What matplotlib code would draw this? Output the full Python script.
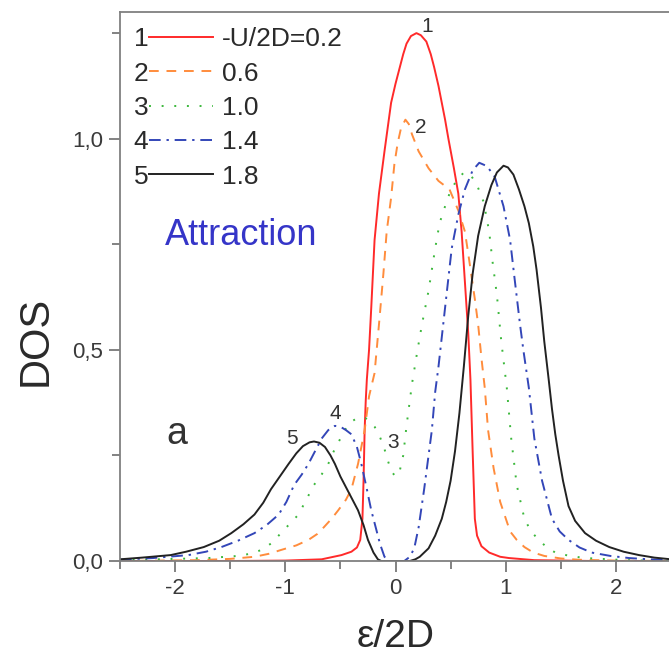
import numpy as np
import matplotlib
matplotlib.use('Agg')
import matplotlib.pyplot as plt
from matplotlib.ticker import MultipleLocator, FuncFormatter

plt.rcParams['font.family'] = ['Liberation Sans', 'DejaVu Sans']

# curve 1: -U/2D = 0.2
x1 = [-2.5, -1.5, -1.0, -0.67, -0.49, -0.4, -0.35, -0.32, -0.3, -0.29, -0.28, -0.27, -0.26, -0.24,
      -0.22, -0.19, -0.15, -0.1, -0.04, 0.0, 0.03, 0.07, 0.1, 0.14, 0.19, 0.23, 0.28, 0.32, 0.35,
      0.39, 0.42, 0.45, 0.48, 0.53, 0.57, 0.6, 0.63, 0.66, 0.68, 0.70, 0.72, 0.74, 0.78, 0.85, 0.95,
      1.03, 1.26, 1.8, 2.5]
y1 = [0.0, 0.0, 0.001, 0.004, 0.014, 0.022, 0.032, 0.05, 0.10, 0.19, 0.31, 0.38, 0.43, 0.5,
      0.60, 0.76, 0.87, 0.97, 1.085, 1.13, 1.16, 1.2, 1.225, 1.243, 1.25, 1.245, 1.23, 1.2, 1.17,
      1.125, 1.085, 1.045, 1.0, 0.93, 0.87, 0.78, 0.66, 0.54, 0.43, 0.26, 0.10, 0.06, 0.035, 0.02, 0.01,
      0.007, 0.002, 0.0, 0.0]

# curve 2: 0.6
x2 = [-2.5, -1.8, -1.5, -1.28, -1.15, -1.04, -0.9, -0.79, -0.71, -0.65, -0.58, -0.52, -0.45, -0.4,
      -0.37, -0.34, -0.28, -0.24, -0.19, -0.15, -0.11, -0.08, -0.04, -0.01, 0.02, 0.05, 0.09, 0.12,
      0.15, 0.21, 0.3, 0.39, 0.49, 0.57, 0.63, 0.67, 0.72, 0.75, 0.78, 0.81, 0.84, 0.89, 0.95, 1.04,
      1.1, 1.17, 1.25, 1.35, 1.5, 1.66, 2.0, 2.5]
y2 = [0.0, 0.002, 0.005, 0.01, 0.017, 0.026, 0.037, 0.05, 0.064, 0.08, 0.10, 0.12, 0.145, 0.17,
      0.2, 0.23, 0.31, 0.39, 0.445, 0.56, 0.68, 0.78, 0.86, 0.94, 0.99, 1.025, 1.045, 1.035,
      1.01, 0.97, 0.93, 0.90, 0.88, 0.83, 0.78, 0.71, 0.62, 0.56, 0.48, 0.41, 0.31, 0.22, 0.14, 0.07,
      0.05, 0.033, 0.02, 0.012, 0.006, 0.003, 0.001, 0.0]

# curve 3: 1.0
x3 = [-2.5, -2.0, -1.7, -1.43, -1.3, -1.22, -1.12, -1.04, -0.96, -0.88, -0.81, -0.74, -0.67, -0.61,
      -0.56, -0.52, -0.46, -0.4, -0.35, -0.31, -0.27, -0.23, -0.19, -0.15, -0.1, -0.06, -0.03, 0.0,
      0.04, 0.07, 0.1, 0.15, 0.2, 0.24, 0.3, 0.36, 0.4, 0.45, 0.49, 0.55, 0.62, 0.68, 0.74, 0.8, 0.85,
      0.88, 0.92, 0.96, 1.01, 1.05, 1.1, 1.17, 1.23, 1.3, 1.37, 1.45, 1.58, 1.72, 2.1, 2.5]
y3 = [0.002, 0.005, 0.007, 0.012, 0.018, 0.026, 0.043, 0.066, 0.088, 0.11, 0.145, 0.18, 0.205, 0.23,
      0.26, 0.28, 0.31, 0.33, 0.338, 0.34, 0.338, 0.33, 0.318, 0.30, 0.265, 0.23, 0.21, 0.20,
      0.215, 0.25, 0.32, 0.42, 0.5, 0.56, 0.64, 0.74, 0.80, 0.84, 0.87, 0.90, 0.92, 0.915, 0.89, 0.85,
      0.78, 0.71, 0.63, 0.52, 0.41, 0.29, 0.18, 0.10, 0.07, 0.05, 0.033, 0.02, 0.012, 0.007, 0.002, 0.0]

# curve 4: 1.4
x4 = [-2.5, -2.2, -1.88, -1.72, -1.58, -1.43, -1.28, -1.17, -1.06, -0.99, -0.92, -0.85, -0.79, -0.73,
      -0.67, -0.61, -0.55, -0.5, -0.45, -0.4, -0.35, -0.31, -0.26, -0.22, -0.19, -0.14, -0.1, -0.05,
      0.03, 0.08, 0.13, 0.17, 0.21, 0.26, 0.33, 0.36, 0.39, 0.45, 0.51, 0.57, 0.63, 0.7, 0.76, 0.83,
      0.9, 0.98, 1.04, 1.08, 1.13, 1.16, 1.21, 1.26, 1.33, 1.42, 1.49, 1.57, 1.67, 1.78, 1.95, 2.12,
      2.3, 2.5]
y4 = [0.003, 0.007, 0.014, 0.022, 0.033, 0.048, 0.066, 0.085, 0.11, 0.14, 0.18, 0.205, 0.23, 0.26,
      0.29, 0.31, 0.32, 0.318, 0.31, 0.30, 0.27, 0.23, 0.17, 0.12, 0.09, 0.04, 0.01, 0.0,
      0.0, 0.0, 0.01, 0.03, 0.08, 0.17, 0.31, 0.40, 0.46, 0.60, 0.74, 0.82, 0.88, 0.925, 0.943, 0.935,
      0.91, 0.84, 0.76, 0.67, 0.56, 0.50, 0.41, 0.29, 0.19, 0.10, 0.07, 0.05, 0.032, 0.02, 0.012, 0.007,
      0.004, 0.002]

# curve 5: 1.8
x5 = [-2.5, -2.3, -2.04, -1.9, -1.74, -1.6, -1.49, -1.38, -1.28, -1.2, -1.13, -1.05, -0.97, -0.9,
      -0.84, -0.78, -0.74, -0.69, -0.64, -0.59, -0.55, -0.5, -0.46, -0.4, -0.34, -0.29, -0.25, -0.2,
      -0.16, -0.13, 0.0, 0.13, 0.18, 0.22, 0.26, 0.3, 0.36, 0.42, 0.46, 0.5, 0.54, 0.58, 0.62, 0.66,
      0.70, 0.75, 0.81, 0.87, 0.92, 0.98, 1.02, 1.07, 1.12, 1.17, 1.21, 1.25, 1.28, 1.32, 1.35, 1.39,
      1.42, 1.45, 1.48, 1.52, 1.57, 1.63, 1.72, 1.82, 1.94, 2.07, 2.21, 2.35, 2.5]
y5 = [0.004, 0.008, 0.014, 0.022, 0.033, 0.048, 0.066, 0.087, 0.11, 0.138, 0.17, 0.20, 0.23, 0.255,
      0.272, 0.281, 0.283, 0.28, 0.27, 0.25, 0.23, 0.20, 0.18, 0.15, 0.12, 0.085, 0.05, 0.02,
      0.004, 0.0, 0.0, 0.0, 0.004, 0.01, 0.02, 0.03, 0.06, 0.10, 0.14, 0.19, 0.26, 0.35, 0.46, 0.58,
      0.68, 0.77, 0.84, 0.89, 0.92, 0.936, 0.932, 0.915, 0.88, 0.84, 0.80, 0.745, 0.69, 0.60, 0.52, 0.43,
      0.36, 0.30, 0.25, 0.19, 0.13, 0.095, 0.066, 0.048, 0.033, 0.022, 0.014, 0.008, 0.004]

labels = ['-U/2D=0.2', '0.6', '1.0', '1.4', '1.8']
numbers = ['1', '2', '3', '4', '5']
colors = ['#ff2a2a', '#ff8c3c', '#3cb83c', '#3346b8', '#222222']
dashes = [None, (5, 4), (1, 5.5), (6, 3, 1.2, 3), None]

# curve number tags placed near peaks
tag_x = [0.29, 0.23, -0.02, -0.55, -0.94]
tag_y = [1.265, 1.026, 0.28, 0.35, 0.29]

fig = plt.figure(figsize=(6.69, 6.57), dpi=100)
ax = fig.add_axes([120 / 669, 96 / 657, 551 / 669, 549 / 657])

xs = [x1, x2, x3, x4, x5]
ys = [y1, y2, y3, y4, y5]
lines = []
for xx, yy, c, d, lab in zip(xs, ys, colors, dashes, labels):
    ln, = ax.plot(xx, yy, color=c, lw=1.4, label=lab)
    if d is not None:
        ln.set_dashes(d)
    lines.append(ln)

ax.set_xlim(-2.5, 2.5)
ax.set_ylim(0, 1.3)
ax.xaxis.set_major_locator(MultipleLocator(1))
ax.xaxis.set_minor_locator(MultipleLocator(0.5))
ax.yaxis.set_major_locator(MultipleLocator(0.5))
ax.yaxis.set_minor_locator(MultipleLocator(0.25))
ax.yaxis.set_major_formatter(FuncFormatter(lambda v, p: ('%.1f' % v).replace('.', ',')))
ax.xaxis.set_major_formatter(FuncFormatter(lambda v, p: '%d' % v))

for s in ax.spines.values():
    s.set_color('#808080')
    s.set_linewidth(1.3)
ax.tick_params(which='both', direction='out', color='#606060', width=1.1,
               labelsize=16, labelcolor='#3a3a3a', top=False, right=False)
ax.tick_params(which='major', length=8, pad=4)
ax.tick_params(which='minor', length=6)

ax.set_xlabel('\u03b5/2D', fontsize=28, color='#2a2a2a')
ax.xaxis.set_label_coords(0.5, -0.105)
ax.set_ylabel('DOS', fontsize=30, color='#2a2a2a', va='center')
ax.yaxis.set_label_coords(-0.154, 0.40)

for t, tx, ty in zip(numbers, tag_x, tag_y):
    ax.text(tx, ty, t, fontsize=15, color='#333333', ha='center', va='center')

ax.text(-2.09, 0.77, 'Attraction', fontsize=26, color='#3535c8', ha='left', va='center')
ax.text(-1.98, 0.30, 'a', fontsize=27, color='#333333', ha='center', va='center')

leg = ax.legend(handles=lines, labels=labels, loc='upper left', bbox_to_anchor=(0.053, 0.972),
                frameon=False, fontsize=19, handlelength=2.4, handletextpad=0.35,
                labelspacing=0.39, borderpad=0, borderaxespad=0)
for t in leg.get_texts():
    t.set_color('#2a2a2a')

# numbers to the left of legend lines
fig.canvas.draw()
inv = ax.transAxes.inverted()
for t, num in zip(leg.get_texts(), numbers):
    bb = t.get_window_extent()
    _, yc = inv.transform(((bb.x0 + bb.x1) / 2, (bb.y0 + bb.y1) / 2))
    ax.text(0.038, yc, num, transform=ax.transAxes, fontsize=19, color='#2a2a2a',
            ha='center', va='center')

fig.savefig('out.png', dpi=100)
